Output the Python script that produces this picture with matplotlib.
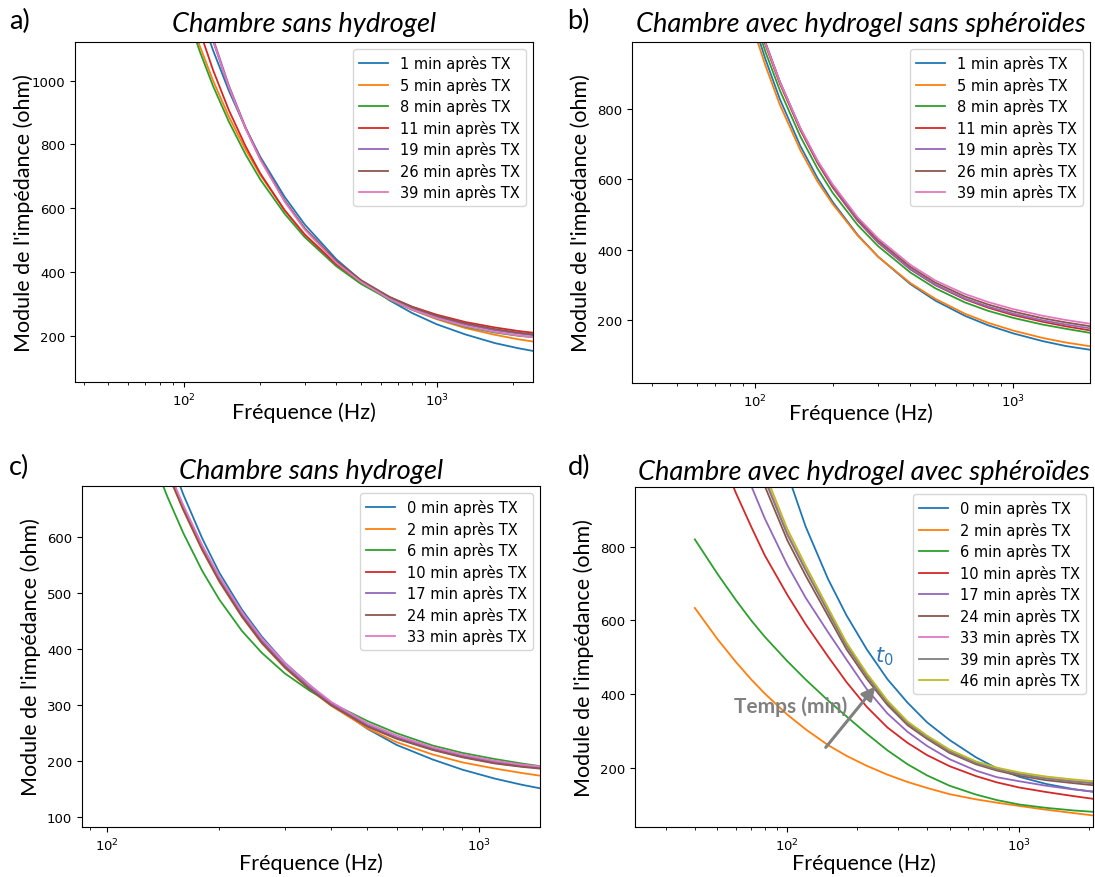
import matplotlib.pyplot as plt
from matplotlib.ticker import FixedLocator

# ---- panel a : Chambre sans hydrogel (first run) ----
freq_a = [100, 115, 130, 150, 175, 200, 250, 300, 400, 500, 650, 800, 1000, 1300, 1700, 2100, 2500]
labels_a = ['1 min après TX', '5 min après TX', '8 min après TX', '11 min après TX',
            '19 min après TX', '26 min après TX', '39 min après TX']
imp_a = [
    [1374, 1216, 1095, 969, 851, 761, 635, 549, 440, 374, 311, 271, 236, 204, 177, 161, 150],
    [1251, 1110, 1000, 888, 783, 704, 593, 518, 424, 367, 314, 281, 252, 224, 203, 189, 180],
    [1235, 1093, 983, 872, 768, 690, 582, 509, 418, 363, 313, 282, 254, 228, 210, 200, 194],
    [1321, 1157, 1033, 908, 794, 709, 593, 517, 424, 370, 321, 291, 266, 243, 226, 215, 208],
    [1470, 1278, 1132, 986, 853, 756, 623, 536, 432, 372, 318, 286, 259, 235, 217, 207, 200],
    [1455, 1268, 1125, 980, 850, 754, 623, 537, 434, 375, 322, 290, 263, 239, 221, 210, 203],
    [1462, 1271, 1126, 981, 849, 752, 620, 533, 429, 369, 315, 282, 255, 230, 212, 201, 194],
]

# ---- panel b : Chambre avec hydrogel sans sphéroïdes ----
freq_b = [90, 100, 110, 125, 150, 175, 200, 250, 300, 400, 500, 650, 800, 1000, 1300, 1600, 2000]
labels_b = labels_a
imp_b = [
    [1150, 1035, 941, 828, 695, 603, 536, 442, 380, 302, 255, 212, 185, 162, 140, 126, 115],
    [1128, 1015, 923, 812, 683, 593, 530, 440, 380, 305, 260, 218, 192, 170, 149, 136, 125],
    [1170, 1055, 962, 853, 722, 630, 562, 470, 410, 335, 290, 250, 226, 206, 187, 175, 163],
    [1190, 1075, 982, 872, 740, 646, 577, 482, 420, 344, 299, 259, 235, 214, 195, 182, 170],
    [1199, 1083, 989, 878, 744, 649, 580, 484, 422, 345, 300, 261, 238, 218, 199, 187, 176],
    [1195, 1080, 987, 877, 745, 651, 583, 488, 427, 351, 306, 267, 244, 224, 205, 193, 182],
    [1192, 1078, 986, 877, 746, 653, 586, 492, 432, 357, 312, 274, 251, 231, 212, 200, 189],
]

# ---- panel c : Chambre sans hydrogel (second run) ----
freq_c = [100, 115, 130, 145, 160, 180, 200, 230, 260, 300, 350, 400, 500, 600, 750, 900, 1100, 1300, 1500]
labels_c = ['0 min après TX', '2 min après TX', '6 min après TX', '10 min après TX',
            '17 min après TX', '24 min après TX', '33 min après TX']
imp_c = [
    [1102, 958, 845, 752, 676, 597, 536, 470, 422, 375, 335, 302, 257, 228, 202, 184, 168, 157, 149],
    [1020, 892, 794, 715, 648, 576, 520, 457, 410, 366, 327, 298, 258, 233, 211, 197, 186, 178, 172],
    [975, 850, 752, 672, 607, 539, 488, 432, 393, 356, 325, 303, 271, 249, 227, 214, 203, 195, 189],
    [1026, 897, 798, 718, 651, 579, 523, 459, 412, 368, 329, 300, 262, 240, 220, 207, 196, 190, 186],
    [1030, 900, 801, 721, 654, 582, 526, 462, 415, 370, 331, 302, 264, 242, 222, 209, 198, 192, 187],
    [1024, 895, 796, 716, 649, 577, 521, 458, 411, 367, 328, 299, 261, 239, 219, 206, 195, 189, 185],
    [1032, 902, 803, 723, 657, 585, 529, 466, 419, 375, 335, 305, 267, 245, 224, 211, 200, 193, 189],
]

# ---- panel d : Chambre avec hydrogel avec sphéroïdes ----
freq_d = [40, 50, 60, 70, 80, 100, 120, 150, 180, 220, 270, 330, 400, 500, 650, 800, 1000, 1300, 1700, 2100]
labels_d = ['0 min après TX', '2 min après TX', '6 min après TX', '10 min après TX', '17 min après TX',
            '24 min après TX', '33 min après TX', '39 min après TX', '46 min après TX']
imp_d = [
    [2178, 1802, 1543, 1354, 1208, 1000, 855, 712, 614, 522, 441, 377, 324, 276, 229, 199, 176, 157, 143, 135],
    [634, 550, 488, 440, 402, 345, 305, 262, 233, 206, 182, 162, 146, 129, 115, 106, 97, 87, 78, 71],
    [820, 727, 656, 600, 556, 490, 440, 383, 340, 293, 248, 210, 180, 152, 128, 113, 101, 92, 85, 81],
    [1250, 1072, 947, 854, 777, 670, 590, 502, 433, 366, 310, 268, 235, 205, 178, 161, 147, 135, 124, 116],
    [1429, 1222, 1076, 965, 877, 751, 662, 568, 494, 414, 348, 298, 260, 224, 193, 175, 164, 152, 142, 136],
    [1610, 1378, 1195, 1065, 965, 818, 722, 612, 522, 442, 371, 316, 279, 241, 210, 193, 179, 167, 159, 153],
    [1650, 1412, 1222, 1090, 988, 838, 740, 626, 534, 452, 379, 322, 284, 246, 214, 197, 184, 173, 165, 160],
    [1640, 1404, 1216, 1084, 982, 833, 736, 623, 531, 450, 377, 321, 283, 245, 213, 196, 183, 171, 163, 158],
    [1672, 1430, 1239, 1105, 1001, 849, 749, 634, 540, 457, 383, 326, 288, 250, 218, 201, 188, 177, 169, 164],
]

colors = ['#1f77b4', '#ff7f0e', '#2ca02c', '#d62728', '#9467bd',
          '#8c564b', '#e377c2', '#7f7f7f', '#bcbd22']

W, H = 1095, 878
fig = plt.figure(figsize=(W / 100, H / 100), dpi=100)


def px_rect(left, top, right, bottom):
    return [left / W, 1 - bottom / H, (right - left) / W, (bottom - top) / H]


def panel(rect, freq, curves, labels, xlim, ylim, yticks, title, letter, letter_pos,
          xpad, ypad, tpad):
    ax = fig.add_axes(px_rect(*rect))
    for i, vals in enumerate(curves):
        ax.plot(freq, vals, color=colors[i], lw=1.3, label=labels[i])
    ax.set_xscale('log')
    ax.set_xlim(xlim)
    ax.set_ylim(ylim)
    ax.yaxis.set_major_locator(FixedLocator(yticks))
    ax.tick_params(labelsize=9.5)
    ax.set_xlabel('Fréquence (Hz)', family='Lato', fontsize=15.5, labelpad=xpad)
    ax.set_ylabel("Module de l'impédance (ohm)", family='Lato', fontsize=15.5, labelpad=ypad)
    ax.set_title(title, family='Lato', style='italic', fontsize=19.6, pad=tpad)
    fig.text(letter_pos[0] / W, 1 - letter_pos[1] / H, letter, family='Lato',
             fontsize=19.6, va='center', ha='left')
    ax.legend(loc='upper right', fontsize=10.5, labelspacing=0.38)
    return ax


panel((75, 43, 533, 383), freq_a, imp_a, labels_a, (36.9, 2407), (55, 1121),
      [200, 400, 600, 800, 1000], 'Chambre sans hydrogel', 'a)', (9, 21), -5, -2, 8)
panel((632, 43, 1090, 384), freq_b, imp_b, labels_b, (33.5, 1982), (21, 990),
      [200, 400, 600, 800], 'Chambre avec hydrogel sans sphéroïdes', 'b)', (567, 21), -5, 4, 8)
panel((82, 487, 540, 828), freq_c, imp_c, labels_c, (85.5, 1455), (81.5, 691),
      [100, 200, 300, 400, 500, 600], 'Chambre sans hydrogel', 'c)', (9, 467), -1, 4, 6)
ax_d = panel((635, 488, 1093, 828), freq_d, imp_d, labels_d, (22.1, 2075), (40, 962),
             [200, 400, 600, 800], 'Chambre avec hydrogel avec sphéroïdes', 'd)', (568, 467),
             -1, 4, 6)

# annotations on panel d
ax_d.annotate('', xy=(244, 427), xytext=(144, 250),
              arrowprops=dict(arrowstyle='-|>', color='#808080', lw=2.2, mutation_scale=20))
ax_d.text(103, 370, 'Temps (min)', family='Lato', fontweight='bold', fontsize=15,
          color='#808080', ha='center', va='center')
ax_d.text(262, 505, '$t_0$', color='#2e75b6', fontsize=15, ha='center', va='center')

fig.savefig('out.png', dpi=100)
